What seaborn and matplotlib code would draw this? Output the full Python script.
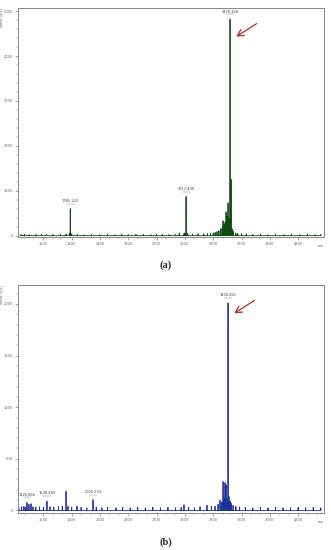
import numpy as np
import pandas as pd
import matplotlib
matplotlib.use("Agg")
import matplotlib.pyplot as plt
from matplotlib.ticker import MultipleLocator, AutoMinorLocator
import seaborn as sns

# ---------------- data ----------------
# panel (a): m/z and intensity of peaks
a_mz = [1262, 1300, 1350, 1420, 1480, 1530, 1600, 1680, 1740, 1775, 1785, 1800, 1860, 1930,
        2010, 2100, 2180, 2260, 2330, 2400, 2480, 2560, 2640, 2700, 2760, 2830, 2900, 2940,
        2990, 3000, 3012, 3030, 3080, 3140, 3200, 3240, 3270, 3300, 3320, 3340, 3360, 3380,
        3395, 3404, 3415, 3426, 3436, 3446, 3457, 3468, 3478, 3489, 3500, 3515, 3540, 3560,
        3600, 3650, 3720, 3800, 3880, 3960, 4050, 4130, 4220, 4300, 4380, 4440]
a_int = [25, 30, 20, 25, 30, 20, 25, 30, 35, 60, 600, 40, 25, 20,
         25, 20, 30, 20, 25, 20, 25, 30, 20, 30, 25, 20, 30, 60,
         40, 60, 870, 45, 30, 40, 35, 45, 55, 60, 70, 90, 110, 150,
         180, 330, 250, 300, 530, 420, 730, 380, 4820, 1250, 150, 90, 60, 45,
         45, 30, 25, 30, 20, 25, 20, 25, 20, 25, 20, 25]
a_labels = {1785: "1785.142", 3012: "3012.408", 3478: "3478.168"}

# panel (b)
b_mz = [1240, 1270, 1294, 1310, 1326, 1347, 1369, 1390, 1420, 1460, 1500, 1538, 1570, 1610,
        1660, 1700, 1740, 1761, 1800, 1856, 1900, 1960, 2026, 2060, 2120, 2180, 2270, 2340,
        2420, 2500, 2580, 2660, 2740, 2820, 2900, 2960, 2990, 3040, 3100, 3160, 3234, 3280,
        3319, 3351, 3372, 3390, 3404, 3415, 3425, 3436, 3446, 3457, 3467, 3478, 3489, 3510,
        3540, 3580, 3640, 3720, 3800, 3880, 3960, 4040, 4120, 4200, 4280, 4360, 4440]
b_int = [30, 35, 40, 30, 77, 60, 65, 35, 30, 35, 30, 90, 35, 30,
         35, 40, 185, 40, 30, 40, 30, 25, 105, 30, 25, 30, 25, 30,
         25, 30, 25, 30, 25, 30, 25, 30, 55, 30, 25, 35, 50, 40,
         40, 60, 100, 80, 280, 120, 270, 250, 110, 2010, 135, 90, 70, 50,
         40, 35, 30, 25, 30, 25, 30, 25, 25, 30, 25, 30, 25]
b_labels = {1326: "1326.868", 1538: "1538.489", 2026: "2026.233", 3457: "3456.861"}

x_ticks = [1500, 1800, 2100, 2400, 2700, 3000, 3300, 3600, 3900, 4200]
a_yticks = [0, 1000, 2000, 3000, 4000, 5000]
b_yticks = [0, 500, 1000, 1500, 2000]


def profile(mz, inten):
    rows = []
    for m, h in sorted(zip(mz, inten)):
        rows += [(m - 0.5, 0.0), (m, h), (m + 0.5, 0.0)]
    return pd.DataFrame(rows, columns=["mz", "intensity"])


sns.set_style("white")
plt.rcParams["font.family"] = ["DejaVu Sans"]

fig = plt.figure(figsize=(3.31, 5.50), dpi=100)
ax_a = fig.add_axes([18 / 331, 1 - 237 / 550, 306 / 331, 229 / 550])
ax_b = fig.add_axes([18 / 331, 1 - 513 / 550, 306 / 331, 228 / 550])

panels = [
    (ax_a, a_mz, a_int, a_labels, "#0f4a12", a_yticks, (-30, 5070), 200,
     ((3785, 4756), (3520, 4400))),
    (ax_b, b_mz, b_int, b_labels, "#1f2f9c", b_yticks, (-25, 2184), 100,
     ((3764, 2050), (3499, 1896))),
]

for ax, mz, inten, labels, color, yt, ylim, yminor, arrow in panels:
    df = profile(mz, inten)
    sns.lineplot(data=df, x="mz", y="intensity", ax=ax, sort=False, estimator=None,
                 color=color, linewidth=0.6)
    ax.set_xlim(1231, 4474)
    ax.set_ylim(*ylim)
    ax.set_xticks(x_ticks)
    ax.set_yticks(yt)
    ax.xaxis.set_minor_locator(AutoMinorLocator(3))
    ax.yaxis.set_minor_locator(MultipleLocator(yminor))
    ax.tick_params(axis="both", which="major", labelsize=2.6, length=2, width=0.4,
                   colors="#666666", pad=1.5, direction="out")
    ax.tick_params(axis="both", which="minor", length=1.2, width=0.3, colors="#666666")
    ax.tick_params(left=True, bottom=True, which="both")
    ax.set_xlabel("")
    ax.set_ylabel("")
    for s in ax.spines.values():
        s.set_color("#888888")
        s.set_linewidth(0.7)
    span = ylim[1] - ylim[0]
    for m, txt in labels.items():
        h = inten[mz.index(m)]
        ax.text(m, h + span * 0.025, txt, ha="center", va="bottom", fontsize=2.6,
                color="#444444")
        ax.plot([m - 45, m + 45], [h + span * 0.022] * 2, color="#777777", lw=0.3)
    ax.annotate("", xy=arrow[1], xytext=arrow[0],
                arrowprops=dict(arrowstyle="->,head_length=0.45,head_width=0.25",
                                color="#b22a2a", lw=0.9))
    ax.text(4470, ylim[0] - span * 0.03, "m/z", ha="right", va="top", fontsize=2.4,
            color="#555555")
    ax.text(-0.054, 1.0, "Intens. [a.u.]", transform=ax.transAxes, rotation=90,
            ha="center", va="top", fontsize=2.2, color="#555555")

fig.text(0.5, 1 - 265 / 550, "(a)", ha="center", va="center", fontsize=7.5,
         family="Liberation Serif", fontweight="bold")
fig.text(0.5, 1 - 542 / 550, "(b)", ha="center", va="center", fontsize=7.5,
         family="Liberation Serif", fontweight="bold")

fig.savefig("out.png", dpi=100, facecolor="white")
